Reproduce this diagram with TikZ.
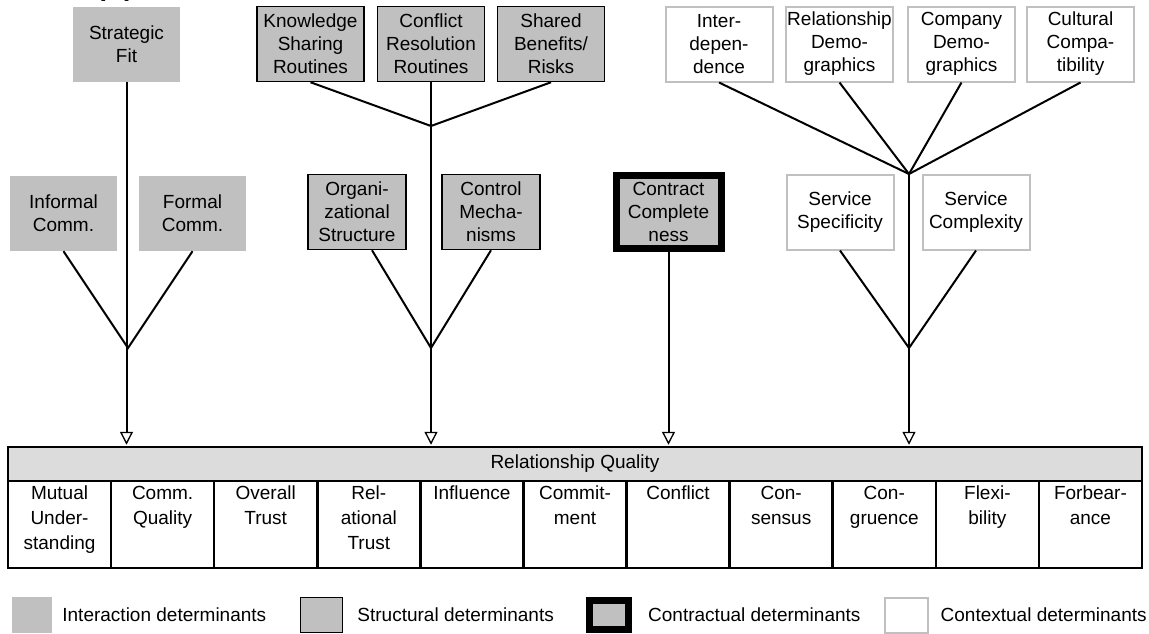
\documentclass[tikz,border=0pt]{standalone}
\usepackage{fontspec}
\setmainfont{Liberation Sans}
\usetikzlibrary{arrows.meta, positioning}
\definecolor{rqgray}{HTML}{C0C0C0}
\definecolor{rqhead}{HTML}{DCDCDC}

\begin{document}
\begin{tikzpicture}[x=1pt, y=-1pt,
  box/.style={minimum width=107pt, minimum height=75pt, inner sep=1pt, align=center, font=\fontsize{19}{23}\selectfont},
  inter/.style={box, fill=rqgray},
  struct/.style={box, fill=rqgray, draw=black, line width=1.5pt},
  contract/.style={box, fill=rqgray, draw=black, line width=7pt},
  context/.style={box, fill=white, draw=rqgray, line width=2pt},
  link/.style={black, line width=2pt},
  arr/.style={link, shorten >=1pt, -{Triangle[open, length=13pt, width=13pt, line width=1.3pt]}},
  cell/.style={draw=black, line width=2.5pt, minimum width=103.1pt, minimum height=87pt, inner sep=0pt},
  celltext/.style={font=\fontsize{19}{25}\selectfont, align=center, anchor=north, inner sep=2pt},
  legtext/.style={font=\fontsize{19}{23}\selectfont, anchor=west, inner sep=0pt}
]
  \useasboundingbox (0,0) rectangle (1149,633);
  \node[font=\fontsize{19}{23}\selectfont, anchor=base] (cut) at (115,-2.5) {[\dots]};

  \node[inter] (fit) at (126.5,44) {Strategic\\Fit};
  \node[inter] (informal) at (63.5,213.5) {Informal\\Comm.};
  \node[inter] (formal) at (192.5,213.5) {Formal\\Comm.};

  \node[struct] (knowledge) at (310.5,44) {Knowledge\\Sharing\\Routines};
  \node[struct] (conflictres) at (431,44) {Conflict\\Resolution\\Routines};
  \node[struct] (shared) at (551,44) {Shared\\Benefits/\\Risks};
  \node[struct, minimum width=98pt] (orga) at (357,212) {Organi-\\zational\\Structure};
  \node[struct, minimum width=98pt] (control) at (491,212) {Control\\Mecha-\\nisms};

  \node[contract, minimum width=105pt, minimum height=73pt] (contract) at (668.5,212) {Contract\\Complete\\ness};

  \node[context] (interdep) at (719,44) {Inter-\\depen-\\dence};
  \node[context] (reldemo) at (839.5,44) {Relationship\\Demo-\\graphics};
  \node[context] (compdemo) at (961.5,44) {Company\\Demo-\\graphics};
  \node[context] (cultural) at (1080.5,44) {Cultural\\Compa-\\tibility};
  \node[context] (specif) at (840,212) {Service\\Specificity};
  \node[context] (complex) at (976,212) {Service\\Complexity};

  \node[draw=black, line width=2.5pt, fill=rqhead, minimum width=1134pt, minimum height=34pt, inner sep=0pt, font=\fontsize{19}{23}\selectfont] (rq) at (575,464) {Relationship Quality};
  \foreach \t [count=\i] in {{Mutual\\Under-\\standing}, {Comm.\\Quality}, {Overall\\Trust}, {Rel-\\ational\\Trust}, {Influence}, {Commit-\\ment}, {Conflict}, {Con-\\sensus}, {Con-\\gruence}, {Flexi-\\bility}, {Forbear-\\ance}}{
    \node[cell] (c\i) at ({8+103.09*(\i-0.5)},524.5) {};
    \node[celltext] at ([yshift=-4pt]c\i.north) {\t};
  }

  \coordinate (j1) at (128,348);
  \coordinate (j2up) at (431,126);
  \coordinate (j2) at (431,348);
  \coordinate (j4up) at (909,174);
  \coordinate (j4) at (909,348);

  \draw[arr] (fit.south) -- (fit.south |- rq.north);
  \draw[link] (informal.south) -- (j1) -- (formal.south);

  \draw[link] (knowledge.south) -- (j2up) -- (shared.south);
  \draw[arr] (conflictres.south) -- (conflictres.south |- rq.north);
  \draw[link] ([xshift=15pt]orga.south) -- (j2) -- (control.south);

  \draw[arr] (contract.south) -- (contract.south |- rq.north);

  \draw[link] (interdep.south) -- (j4up);
  \draw[link] (reldemo.south) -- (j4up);
  \draw[link] (compdemo.south) -- (j4up);
  \draw[link] (cultural.south) -- (j4up);
  \draw[arr] (j4up) -- (j4up |- rq.north);
  \draw[link] (specif.south) -- (j4) -- (complex.south);

  \node[inter, minimum width=40pt, minimum height=36pt] (leg1) at (32,615) {};
  \node[legtext, right=10pt of leg1] (legt1) {Interaction determinants};
  \node[struct, minimum width=42pt, minimum height=35pt] (leg2) at (321.5,615) {};
  \node[legtext, right=14pt of leg2] (legt2) {Structural determinants};
  \node[contract, minimum width=39pt, minimum height=29pt] (leg3) at (609,615) {};
  \node[legtext, right=16pt of leg3] (legt3) {Contractual determinants};
  \node[context, minimum width=43pt, minimum height=35pt] (leg4) at (906,615) {};
  \node[legtext, right=12pt of leg4] (legt4) {Contextual determinants};
\end{tikzpicture}
\end{document}
